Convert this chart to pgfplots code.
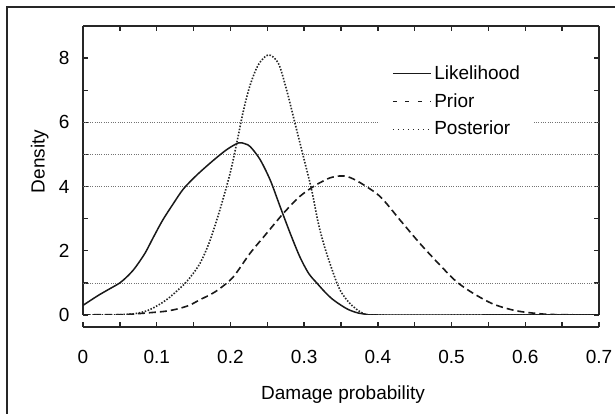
\documentclass[border=0pt]{standalone}
\usepackage{fontspec}
\setmainfont{Liberation Sans}
\usepackage{pgfplots}
\pgfplotsset{compat=1.18}
\usepackage{pgfplotstable}

\pgfplotstableread{
x y
0 0.30
0.02 0.60
0.035 0.80
0.05 1.00
0.06 1.20
0.07 1.45
0.084 1.92
0.095 2.40
0.108 2.95
0.122 3.45
0.136 3.92
0.154 4.35
0.176 4.80
0.195 5.15
0.211 5.36
0.220 5.33
0.227 5.24
0.240 4.85
0.254 4.20
0.267 3.40
0.281 2.55
0.294 1.82
0.306 1.30
0.317 1.00
0.328 0.72
0.338 0.50
0.349 0.32
0.360 0.17
0.372 0.07
0.385 0.02
0.400 0.0
0.55 0.0
0.700 0.0
}\likelihood

\pgfplotstableread{
x y
0 0
0.025 0.01
0.05 0.01
0.068 0.03
0.09 0.07
0.113 0.12
0.13 0.20
0.145 0.31
0.159 0.48
0.174 0.65
0.186 0.83
0.204 1.19
0.2266 1.92
0.249 2.54
0.272 3.17
0.294 3.69
0.3125 4.00
0.3215 4.12
0.335 4.27
0.3486 4.33
0.36 4.30
0.376 4.12
0.403 3.69
0.430 2.96
0.457 2.23
0.484 1.56
0.5066 1.04
0.529 0.68
0.5566 0.34
0.588 0.13
0.624 0.03
0.65 0.01
0.7 0
}\prior

\pgfplotstableread{
x y
0 0
0.03 0
0.05 0.01
0.07 0.04
0.09 0.16
0.113 0.47
0.136 0.93
0.147 1.22
0.159 1.62
0.172 2.30
0.186 3.30
0.1994 4.40
0.2085 5.35
0.2175 6.35
0.2266 7.15
0.2378 7.79
0.2514 8.10
0.265 7.84
0.2763 7.00
0.2876 5.97
0.299 4.93
0.3102 3.89
0.3192 2.86
0.328 2.10
0.3396 1.30
0.3486 0.78
0.362 0.36
0.380 0.05
0.400 0.0
0.55 0.0
0.7 0.0
}\posterior

\begin{document}
\fontsize{19}{22}\selectfont
\begin{tikzpicture}
\useasboundingbox (0pt,0pt) rectangle (615pt,414pt);
\draw[line width=1.3pt, black!85] (7pt,-5pt) -- (7pt,407pt) -- (620pt,407pt);
\begin{axis}[
  at={(83pt,99pt)}, anchor=south west,
  scale only axis, width=516pt, height=289pt,
  xmin=0, xmax=0.7, ymin=0, ymax=9,
  axis x line*=top, axis y line*=box,
  axis line style={line width=1.6pt, black!85},
  tick align=inside,
  major tick length=5pt, minor tick length=5pt,
  every tick/.append style={line width=1.4pt, black!85},
  xtick={0,0.1,0.2,0.3,0.4,0.5,0.6,0.7}, minor x tick num=1, xticklabels={},
  ytick={0,2,4,6,8}, minor y tick num=1,
  yticklabel pos=left,
  /pgf/number format/assume math mode=true,
  yticklabel style={font=\fontsize{19}{22}\selectfont, xshift=-7pt},
  extra y ticks={1,4,5,6}, extra y tick labels={},
  extra y tick style={grid=major, major tick length=0pt},
  major grid style={line width=0.7pt, black!55, dash pattern=on 1pt off 1.3pt},
  ylabel={Density},
  ylabel style={at={(axis description cs:-0.084,0.531)}, anchor=center, font=\fontsize{19}{22}\selectfont},
  xlabel={Damage probability},
  xlabel style={at={(axis description cs:0.504,-0.277)}, anchor=center, font=\fontsize{19}{22}\selectfont},
  legend style={at={(axis cs:0.4029,7.92)}, anchor=north west, draw=none, fill=white,
    inner xsep=12pt, inner ysep=2pt, row sep=6.3pt,
    font=\fontsize{19}{22}\selectfont,
    nodes={inner sep=2.5pt, text depth=0.15em}},
  legend cell align=left,
  legend image code/.code={\draw[#1] (0pt,0pt) -- (38pt,0pt);},
]
\addlegendimage{line width=1.5pt, black!90}
\addlegendentry{Likelihood}
\addlegendimage{line width=1.6pt, black!90, dash pattern=on 4pt off 8.5pt}
\addlegendentry{Prior}
\addlegendimage{line width=1.5pt, black!85, dash pattern=on 1.5pt off 3.5pt}
\addlegendentry{Posterior}
\addplot[line width=1.5pt, black!90, smooth, forget plot] table {\likelihood};
\addplot[line width=1.6pt, black!90, smooth, dash pattern=on 7pt off 4pt, forget plot] table {\prior};
\addplot[line width=1.6pt, black!85, smooth, dash pattern=on 1.5pt off 1.6pt, forget plot] table {\posterior};
\end{axis}
\begin{axis}[
  at={(83pt,99pt)}, anchor=south west,
  scale only axis, width=516pt, height=289pt,
  xmin=0, xmax=0.7, ymin=0, ymax=9,
  axis x line*=bottom, axis y line=none,
  axis x line shift=12pt,
  axis line style={line width=1.6pt, black!85},
  tick align=inside,
  major tick length=5pt, minor tick length=5pt,
  every tick/.append style={line width=1.4pt, black!85},
  xtick={0,0.1,0.2,0.3,0.4,0.5,0.6,0.7}, minor x tick num=1,
  /pgf/number format/assume math mode=true,
  /pgf/number format/fixed, /pgf/number format/precision=1,
  xticklabel style={font=\fontsize{19}{22}\selectfont, yshift=-16.5pt},
]
\end{axis}
\end{tikzpicture}
\end{document}
